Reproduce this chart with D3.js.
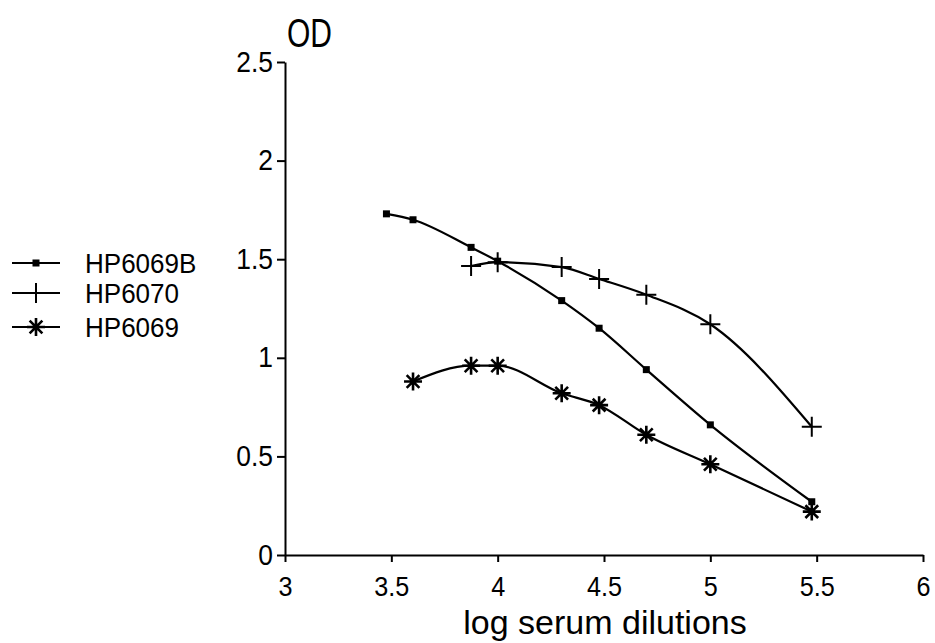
<!DOCTYPE html>
<html><head><meta charset="utf-8">
<script src="https://cdn.jsdelivr.net/npm/d3@7"></script>
<style>
body{margin:0;background:#fff;}
text{font-family:"Liberation Sans",Arial,sans-serif;fill:#000;}
</style></head>
<body><svg id="c" width="935" height="643"></svg>
<script>
const xTicks = [3, 3.5, 4, 4.5, 5, 5.5, 6];
const yTicks = [0, 0.5, 1, 1.5, 2, 2.5];
const seriesNames = ["HP6069B", "HP6070", "HP6069"];
const xB = [3.477, 3.602, 3.875, 4.0, 4.301, 4.477, 4.699, 5.0, 5.477];
const yB = [1.73, 1.70, 1.56, 1.49, 1.29, 1.15, 0.94, 0.66, 0.27];
const x70 = [3.875, 4.0, 4.301, 4.477, 4.699, 5.0, 5.477];
const y70 = [1.465, 1.485, 1.46, 1.40, 1.32, 1.17, 0.65];
const x69 = [3.602, 3.875, 4.0, 4.301, 4.477, 4.699, 5.0, 5.477];
const y69 = [0.88, 0.96, 0.96, 0.82, 0.76, 0.61, 0.46, 0.22];

const svg = d3.select("#c");
const x = d3.scaleLinear().domain([3, 6]).range([285, 923]);
const y = d3.scaleLinear().domain([0, 2.5]).range([555, 62]);
const SX = 0.9;

const xa = svg.append("g").attr("transform","translate(0,555)")
  .call(d3.axisBottom(x).tickValues(xTicks).tickSize(7).tickSizeOuter(0).tickFormat(d3.format("")));
xa.select(".domain").attr("stroke-width",2);
xa.selectAll(".tick line").attr("stroke-width",2);
xa.selectAll(".tick text").attr("font-size",28).attr("y",0).attr("dy",0)
  .attr("transform",`translate(0,41) scale(${SX},1)`);

const ya = svg.append("g").attr("transform","translate(285,0)")
  .call(d3.axisLeft(y).tickValues(yTicks).tickSize(8).tickSizeOuter(0).tickFormat(d3.format("")));
ya.select(".domain").attr("stroke-width",2);
ya.selectAll(".tick line").attr("stroke-width",2);
ya.selectAll(".tick text").attr("font-size",30).attr("x",0).attr("dy",0)
  .attr("transform",`translate(-12,9) scale(0.88,1)`);

function label(str, px, py, size, sx, anchor){
  svg.append("text").attr("transform",`translate(${px},${py}) scale(${sx},1)`)
    .attr("font-size",size).attr("text-anchor",anchor||"start").text(str);
}
label("OD", 287, 47, 40, 0.75);
label("log serum dilutions", 605, 634, 34, 1.0, "middle");

const line = d3.line().x(d=>x(d[0])).y(d=>y(d[1])).curve(d3.curveMonotoneX);
const data = [d3.zip(xB,yB), d3.zip(x70,y70), d3.zip(x69,y69)];
data.forEach(pts=>{
  svg.append("path").attr("d",line(pts)).attr("fill","none").attr("stroke","#000").attr("stroke-width",2.2);
});

function marker(g, type, cx, cy){
  if(type===0){
    g.append("rect").attr("x",cx-3.5).attr("y",cy-3.5).attr("width",7).attr("height",7).attr("fill","#000");
  } else if(type===1){
    g.append("path").attr("d",`M${cx-10},${cy}H${cx+10}M${cx},${cy-10}V${cy+10}`).attr("stroke","#000").attr("stroke-width",2);
  } else {
    const r=9; let d="";
    for(let i=0;i<4;i++){const a=i*Math.PI/4; d+=`M${cx-r*Math.cos(a)},${cy-r*Math.sin(a)}L${cx+r*Math.cos(a)},${cy+r*Math.sin(a)}`;}
    g.append("path").attr("d",d).attr("stroke","#000").attr("stroke-width",2.6);
  }
}
data.forEach((pts,i)=>{
  const g = svg.append("g");
  pts.forEach(p=>marker(g,i,x(p[0]),y(p[1])));
});

const ly = [263, 293, 327];
seriesNames.forEach((n,i)=>{
  svg.append("line").attr("x1",12).attr("x2",60).attr("y1",ly[i]).attr("y2",ly[i]).attr("stroke","#000").attr("stroke-width",2);
  marker(svg, i, 36, ly[i]);
  label(n, 85, ly[i]+10, 28, 0.93);
});
</script></body></html>
